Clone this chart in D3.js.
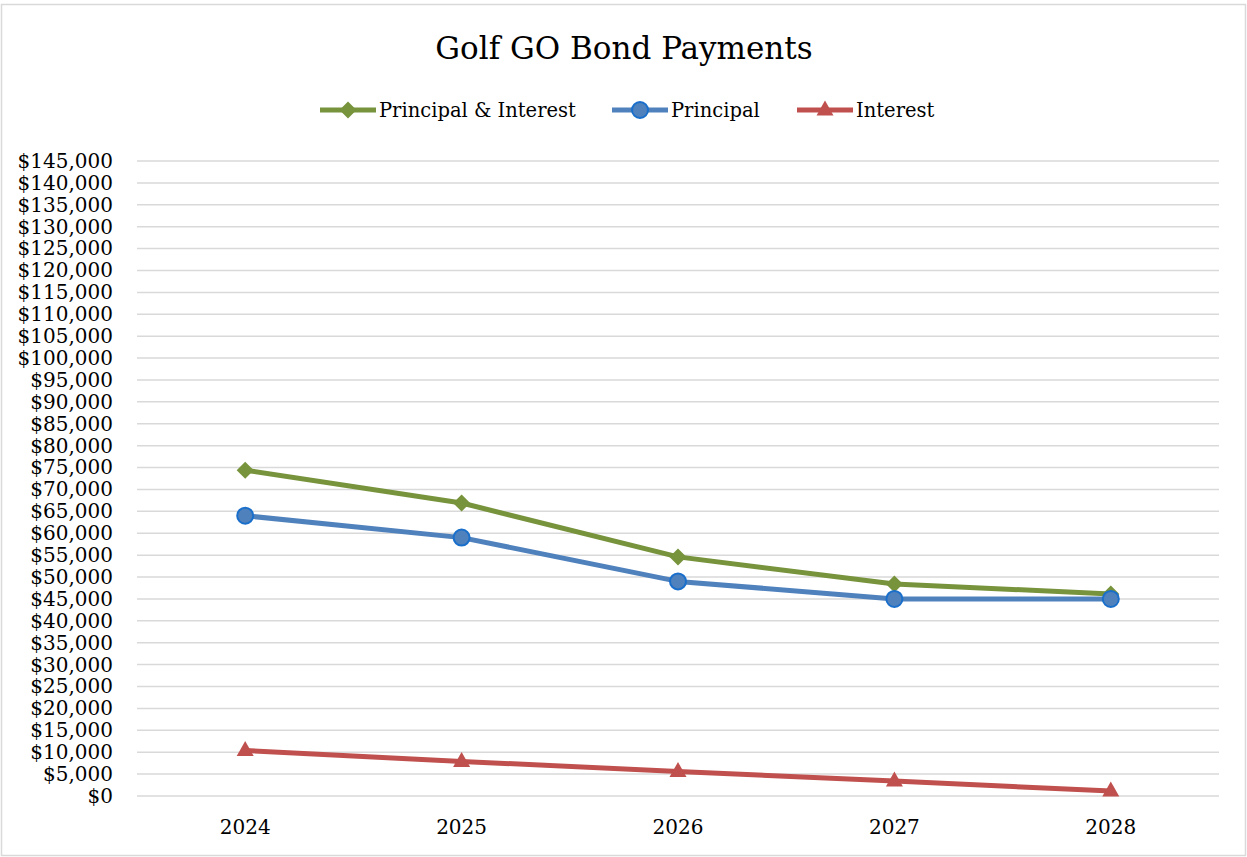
<!DOCTYPE html>
<html>
<head>
<meta charset="utf-8">
<script src="https://cdn.jsdelivr.net/npm/d3@7"></script>
<style>
  html, body { margin: 0; padding: 0; background: #fff; }
  svg { display: block; }
  text { font-family: "DejaVu Serif", serif; fill: #000; }
</style>
</head>
<body>
<svg id="chart" width="1247" height="857"></svg>
<script>
// Bond payment schedule by fiscal year
const years = ["2024", "2025", "2026", "2027", "2028"];
const principal = [64000, 59000, 49000, 45000, 45000];
const interest = [10400, 7900, 5600, 3400, 1150];
const principalAndInterest = [74400, 66900, 54600, 48400, 46150];
const yTicks = d3.range(0, 145001, 5000);

const seriesNames = ["Principal & Interest", "Principal", "Interest"];
const seriesColors = ["#77933c", "#4f81bd", "#c0504d"];
const seriesMarkers = ["diamond", "circle", "triangle"];
const seriesValues = [principalAndInterest, principal, interest];

const W = 1247, H = 857;
const margin = { left: 137, right: 28, top: 161, bottom: 61 };
const svg = d3.select("#chart");

// chart frame
svg.append("rect")
  .attr("x", 1.5).attr("y", 4.5)
  .attr("width", W - 3).attr("height", H - 6)
  .attr("fill", "#fff").attr("stroke", "#d9d9d9").attr("stroke-width", 1.5);

const x = d3.scaleBand().domain(years)
  .range([margin.left, W - margin.right]);
const y = d3.scaleLinear().domain([0, 145000])
  .range([H - margin.bottom, margin.top]);

// horizontal gridlines
svg.append("g")
  .selectAll("line")
  .data(yTicks)
  .join("line")
  .attr("x1", margin.left).attr("x2", W - margin.right)
  .attr("y1", d => y(d)).attr("y2", d => y(d))
  .attr("stroke", "#d9d9d9").attr("stroke-width", 1.5);

// y axis labels
const fmt = d3.format("$,.0f");
const yAxis = d3.axisLeft(y).tickValues(yTicks).tickFormat(fmt).tickSize(0).tickPadding(24);
const gy = svg.append("g").attr("transform", `translate(${margin.left},0)`).call(yAxis);
gy.select(".domain").remove();
gy.selectAll("text")
  .attr("font-family", "DejaVu Serif").attr("font-size", 20).attr("fill", "#000");

// x axis labels
const xAxis = d3.axisBottom(x).tickSize(0).tickPadding(24);
const gx = svg.append("g").attr("transform", `translate(0,${H - margin.bottom})`).call(xAxis);
gx.select(".domain").remove();
gx.selectAll("text")
  .attr("font-family", "DejaVu Serif").attr("font-size", 20).attr("fill", "#000");

const cx = d => x(d) + x.bandwidth() / 2;
const line = d3.line().x(d => cx(d.year)).y(d => y(d.value));

function drawMarker(g, kind, color, px, py) {
  if (kind === "diamond") {
    g.append("path")
      .attr("d", `M${px},${py - 8.5}L${px + 8.5},${py}L${px},${py + 8.5}L${px - 8.5},${py}Z`)
      .attr("fill", color);
  } else if (kind === "circle") {
    g.append("circle").attr("cx", px).attr("cy", py).attr("r", 8)
      .attr("fill", color).attr("stroke", "#1a6fcb").attr("stroke-width", 2);
  } else {
    g.append("path")
      .attr("d", `M${px},${py - 9.5}L${px + 8.5},${py + 5.5}L${px - 8.5},${py + 5.5}Z`)
      .attr("fill", color);
  }
}

// series lines with markers
seriesValues.forEach((vals, i) => {
  const pts = years.map((yr, j) => ({ year: yr, value: vals[j] }));
  const g = svg.append("g");
  g.append("path").datum(pts).attr("d", line)
    .attr("fill", "none").attr("stroke", seriesColors[i])
    .attr("stroke-width", 5).attr("stroke-linejoin", "round");
  pts.forEach(p => drawMarker(g, seriesMarkers[i], seriesColors[i], cx(p.year), y(p.value)));
});

// title
svg.append("text")
  .attr("x", 624).attr("y", 59)
  .attr("text-anchor", "middle")
  .attr("font-size", 31)
  .text("Golf GO Bond Payments");

// legend
const legendX = [320, 612, 797];
const legend = svg.append("g");
seriesNames.forEach((name, i) => {
  const g = legend.append("g");
  g.append("line")
    .attr("x1", legendX[i]).attr("x2", legendX[i] + 56)
    .attr("y1", 110).attr("y2", 110)
    .attr("stroke", seriesColors[i]).attr("stroke-width", 5);
  drawMarker(g, seriesMarkers[i], seriesColors[i], legendX[i] + 28, 110);
  g.append("text")
    .attr("x", legendX[i] + 59).attr("y", 117)
    .attr("font-size", 19.5)
    .text(name);
});
</script>
</body>
</html>
